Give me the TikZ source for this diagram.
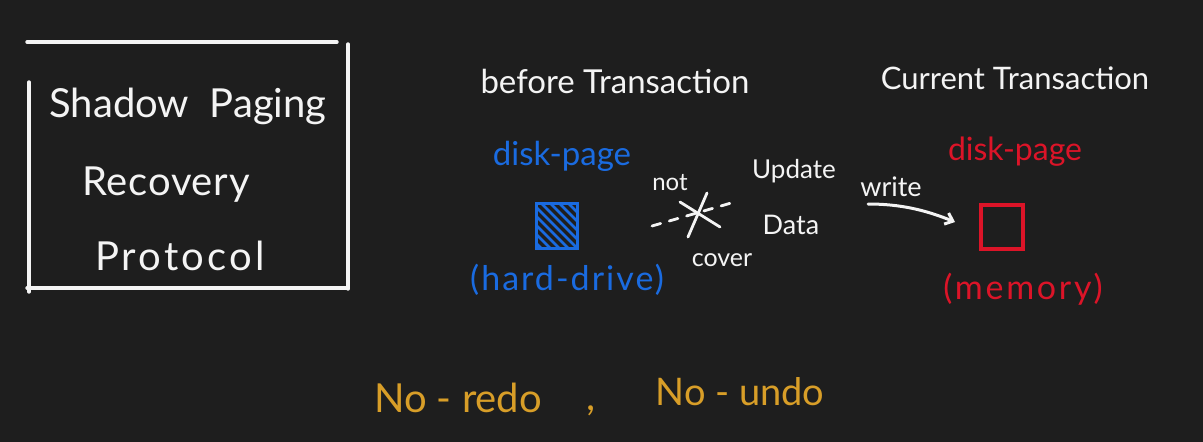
\documentclass[tikz,border=0pt]{standalone}
\usepackage{fontspec}
\setmainfont{Lato}
\usetikzlibrary{arrows.meta}
\definecolor{bg}{HTML}{1E1E1E}
\definecolor{inkw}{HTML}{F4F4F4}
\definecolor{inkb}{HTML}{1A6BE0}
\definecolor{inkr}{HTML}{DC1428}
\definecolor{inko}{HTML}{D89E28}
\tikzset{
  txt/.style={text=inkw, inner sep=0pt, anchor=base},
  stroke/.style={draw=inkw, line width=3.4pt, line cap=round},
}
\begin{document}
\begin{tikzpicture}[x=1pt,y=-1pt]
\fill[bg] (0,0) rectangle (1203,442);
\useasboundingbox (0,0) rectangle (1203,442);
% frame
\draw[stroke] (27,42) -- (337,42);
\draw[stroke] (348,44) -- (348,289);
\draw[stroke] (29,82) -- (29,292);
\draw[stroke] (27,288) -- (348,288);
\node[txt, font=\fontsize{40}{44}\selectfont] (t1) at (188,117) {Shadow\ \ Paging};
\node[txt, font=\fontsize{40}{44}\selectfont\addfontfeature{LetterSpace=2}] (t2) at (166,195) {Recovery};
\node[txt, font=\fontsize{40}{44}\selectfont\addfontfeature{LetterSpace=8}] (t3) at (180,270) {Protocol};
% headings
\node[txt, font=\fontsize{33}{36}\selectfont] (h1) at (615,93) {before Transaction};
\node[txt, font=\fontsize{31}{34}\selectfont] (h2) at (1015,89) {Current Transaction};
% blue
\node[txt, text=inkb, font=\fontsize{33}{36}\selectfont] (dpb) at (562,165) {disk-page};
\node[minimum width=40pt, minimum height=44pt, inner sep=0pt] (sqb) at (557,226) {};
\begin{scope}
  \clip (sqb.south west) rectangle (sqb.north east);
  \foreach \k in {-40,-31,...,40}
    \draw[inkb, line width=2.6pt] ([xshift=\k pt]sqb.north west) -- ++(48,48);
\end{scope}
\draw[inkb, line width=3.2pt, line cap=round] (sqb.south west) rectangle (sqb.north east);
\node[txt, text=inkb, font=\fontsize{34}{37}\selectfont\addfontfeature{LetterSpace=6}] (hd) at (567,290) {(hard-drive)};
% not cover
\node[txt, font=\fontsize{24}{27}\selectfont] (nt) at (670,190) {not};
\node[txt, font=\fontsize{25}{28}\selectfont] (cv) at (722,266) {cover};
\coordinate (d1) at (652,226);
\coordinate (d2) at (738,201);
\draw[stroke, line width=2.8pt, dash pattern=on 9pt off 9pt] (d1) -- (d2);
\coordinate (x1) at (707,193);
\coordinate (x2) at (688,237);
\coordinate (x3) at (680,202);
\coordinate (x4) at (720,227);
\draw[stroke, line width=2.8pt] (x1) -- (x2);
\draw[stroke, line width=2.8pt] (x3) -- (x4);
% update data
\node[txt, font=\fontsize{26}{29}\selectfont] (up) at (794,178) {Update};
\node[txt, font=\fontsize{27}{30}\selectfont] (dt) at (791,234) {Data};
\node[txt, font=\fontsize{27}{30}\selectfont] (wr) at (891,196) {write};
\coordinate (a1) at (868,204);
\coordinate (a2) at (955,222);
\draw[stroke, line width=3pt, -{Straight Barb[length=7pt,width=12pt]}] (a1) .. controls (905,204) and (930,212) .. (a2);
% red
\node[txt, text=inkr, font=\fontsize{32}{35}\selectfont] (dpr) at (1015,160) {disk-page};
\node[draw=inkr, line width=3.2pt, minimum width=42pt, minimum height=44pt, inner sep=0pt] (sqr) at (1002,227) {};
\node[txt, text=inkr, font=\fontsize{34}{37}\selectfont\addfontfeature{LetterSpace=8}] (mem) at (1023,299) {(memory)};
% bottom
\node[txt, text=inko, font=\fontsize{40}{44}\selectfont] (nr) at (458,412) {No - redo};
\node[txt, text=inko, font=\fontsize{40}{44}\selectfont] (cm) at (591,410) {,};
\node[txt, text=inko, font=\fontsize{38}{42}\selectfont] (nu) at (740,405) {No - undo};
\end{tikzpicture}
\end{document}
